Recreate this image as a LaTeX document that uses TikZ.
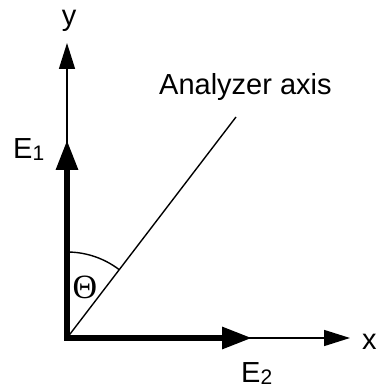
\documentclass[tikz,border=0pt]{standalone}
\usepackage{fontspec}
\setmainfont{Liberation Sans}
\newfontfamily\thetafont{Liberation Serif}
\usetikzlibrary{arrows.meta}

\newcommand{\lowsub}[1]{\raisebox{-2pt}{\fontsize{21}{21}\selectfont #1}}

\begin{document}
\begin{tikzpicture}[
    x=1pt, y=1pt,
    axisline/.style={line width=1.5pt, -{Triangle[length=26pt, width=16pt]}},
    vecline/.style ={line width=6pt, line cap=rect, -{Triangle[length=30pt, width=21pt]}},
    lbl/.style     ={font=\fontsize{29}{29}\selectfont, inner sep=0pt, anchor=base west}
]
\useasboundingbox (0,0) rectangle (377,390);

% origin and end points
\coordinate (O)     at (67,52);
\coordinate (ytip)  at (67,347);
\coordinate (xtip)  at (350,52);
\coordinate (e1tip) at (67,250);
\coordinate (e2tip) at (252,52);
\coordinate (ana)   at (236,273);
\coordinate (arcst) at (67,138);

% axes
\draw[axisline] (O) -- (ytip);
\draw[axisline] (O) -- (xtip);

% field components
\draw[vecline] (O) -- (e1tip);
\draw[vecline] (O) -- (e2tip);

% analyzer axis and angle
\draw[line width=1.4pt] (O) -- (ana);
\draw[line width=1.4pt] (arcst) arc[start angle=90, end angle=52.6, radius=86];

% labels
\node[lbl, anchor=base] (ylbl) at (69,364) {y};
\node[lbl] (xlbl)   at (362,40)  {x};
\node[lbl] (analbl) at (159,295) {Analyzer axis};
\node[lbl] (e1lbl)  at (13,231)  {E\lowsub{1}};
\node[lbl] (e2lbl)  at (241,7)   {E\lowsub{2}};
\node[font=\thetafont\fontsize{34}{34}\selectfont, inner sep=0pt] (thlbl) at (85,103) {Θ};
\end{tikzpicture}
\end{document}
